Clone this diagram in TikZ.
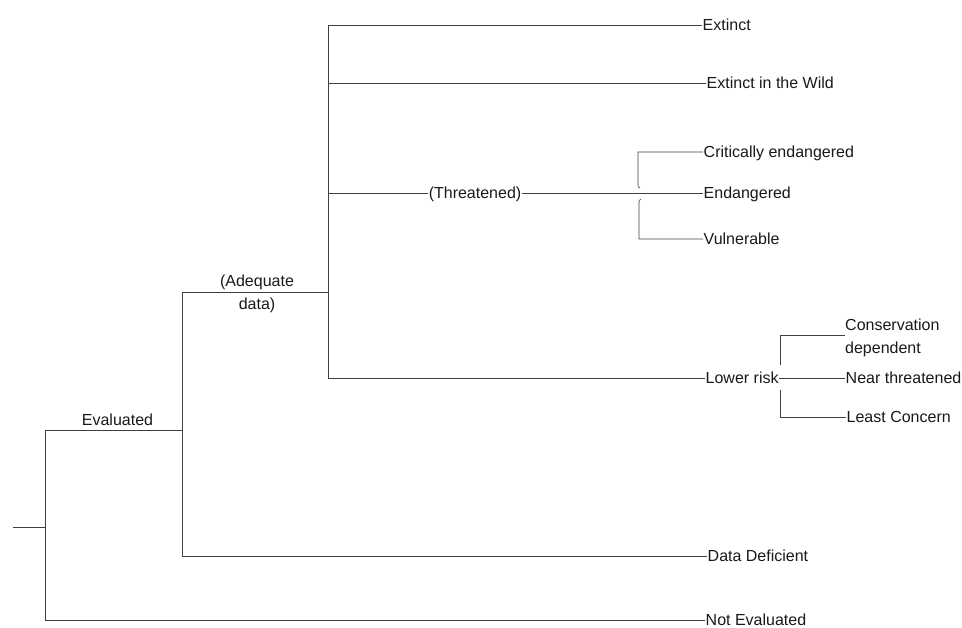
\documentclass[tikz,border=0pt]{standalone}
\usepackage{fontspec}
\setmainfont{Liberation Sans}
\begin{document}
\begin{tikzpicture}[x=1pt,y=-1pt,
  branch/.style={draw=black!75,line width=0.6pt},
  lab/.style={font=\fontsize{16}{23}\selectfont,inner xsep=0.5pt,inner ysep=0pt,text height=11.5pt,text depth=0pt,text=black!90},
  mlab/.style={font=\fontsize{16}{23}\selectfont,inner sep=0pt,text=black!90}]
\useasboundingbox (0,0) rectangle (962,628);
% junction coordinates
\coordinate (rootstub) at (13,527);
\coordinate (r) at (45,527);
\coordinate (rtop) at (45,430);
\coordinate (rbot) at (45,620);
\coordinate (etop) at (182,292);
\coordinate (ebot) at (182,556);
\coordinate (e) at (182,430);
\coordinate (atop) at (328,25);
\coordinate (abot) at (328,378);
\coordinate (a) at (328,292);
\coordinate (tb1) at (638,152);
\coordinate (tb2) at (638,185);
\coordinate (tb2h) at (640,188);
\coordinate (tb3h) at (641,199);
\coordinate (tb3) at (639,202);
\coordinate (tb4) at (639,239);
\coordinate (lb1) at (780,335);
\coordinate (lb2) at (780,365);
\coordinate (lb3) at (780,390);
\coordinate (lb4) at (780,417);
% labels
\node[lab,anchor=west] (ex) at (702,25) {Extinct};
\node[lab,anchor=west] (ew) at (706,83) {Extinct in the Wild};
\node[lab] (thr) at (475,193) {(Threatened)};
\node[lab,anchor=west] (ce) at (703,152) {Critically endangered};
\node[lab,anchor=west] (en) at (703,193) {Endangered};
\node[lab,anchor=west] (vu) at (703,239) {Vulnerable};
\node[lab,anchor=west] (lr) at (705,378) {Lower risk};
\node[mlab,anchor=base west,align=left] (cd) at (845,353.6) {Conservation\\dependent};
\node[lab,anchor=west] (nt) at (845,378) {Near threatened};
\node[lab,anchor=west] (lc) at (846,417) {Least Concern};
\node[lab,anchor=west] (dd) at (707,556) {Data Deficient};
\node[lab,anchor=west] (ne) at (705,620) {Not Evaluated};
\node[mlab,anchor=base,align=center] (ad) at (257,310) {(Adequate\\data)};
\node[mlab,anchor=base] (ev) at (117.5,425.8) {Evaluated};
% root
\draw[branch] (rootstub) -- (r);
\draw[branch] (rtop) -- (rbot);
\draw[branch] (rtop) -- (e);
\draw[branch] (rbot) -- (ne.west);
% evaluated
\draw[branch] (etop) -- (ebot);
\draw[branch] (etop) -- (a);
\draw[branch] (ebot) -- (dd.west);
% adequate data
\draw[branch] (atop) -- (abot);
\draw[branch] (atop) -- (ex.west);
\draw[branch] (atop |- ew) -- (ew.west);
\draw[branch] (atop |- thr) -- (thr.west);
\draw[branch] (thr.east) -- (en.west);
\draw[branch] (abot) -- (lr.west);
% threatened bracket
\draw[branch] (ce.west) -- (tb1) -- (tb2) to[out=-90,in=180] (tb2h);
\draw[branch] (tb3h) to[out=180,in=-90] (tb3) -- (tb4) -- (vu.west);
% lower risk bracket
\draw[branch] (lb2) -- (lb1) -- (lb1 -| cd.west);
\draw[branch] (lr.east) -- (nt.west);
\draw[branch] (lb3) -- (lb4) -- (lc.west);
\end{tikzpicture}
\end{document}
